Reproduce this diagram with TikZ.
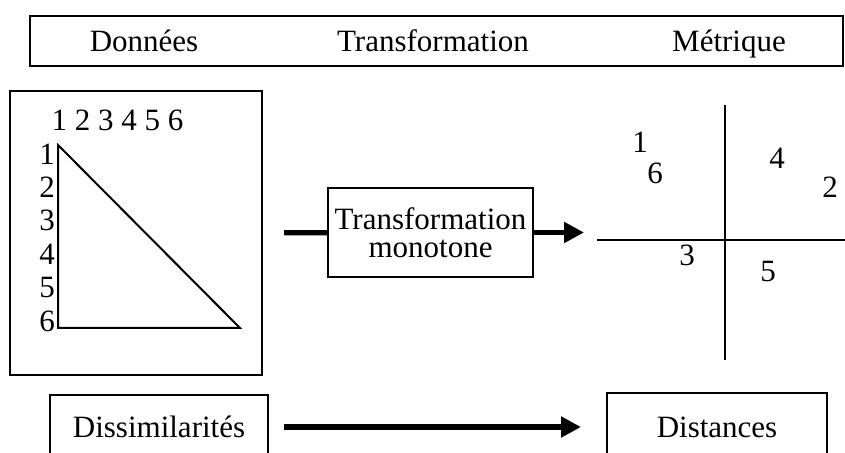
\documentclass[tikz,border=0pt]{standalone}
\usepackage{fontspec}
\setmainfont{Liberation Serif}
\usetikzlibrary{arrows.meta,positioning}

\begin{document}
\begin{tikzpicture}[x=0.5pt,y=-0.5pt,
  font=\fontsize{15.5}{14}\selectfont,
  box/.style={rectangle,draw,line width=1pt,align=center,inner sep=0pt},
  num/.style={inner sep=0pt},
  bar/.style={line width=2.6pt},
  arrow/.style={-{Triangle[length=10pt,width=10pt]},line width=2.6pt},
  axis/.style={line width=1.4pt}
]
\useasboundingbox (0,0) rectangle (845,453);
% bandeau du haut
\node[box,minimum width=406.5pt,minimum height=25pt] (head) at (436.5,41) {};
\node[num,anchor=base] (hdon) at (144,52) {Données};
\node[num,anchor=base] (htra) at (433,52) {Transformation};
\node[num,anchor=base] (hmet) at (729,52) {Métrique};
% donnees
\node[box,minimum width=126pt,minimum height=142pt] (data) at (136,233) {};
\node[num] (cols) at (117.5,120) {1 2 3 4 5 6};
\foreach \i in {1,...,6}
  \node[num] (r\i) at (47,{154+33.4*(\i-1)}) {\i};
\draw[line width=1pt] (58,145) -- (58,328) -- (240,328) -- cycle;
% transformation
\node[box,minimum width=102.5pt,minimum height=44.5pt] (mono) at (430.5,232.5) {Transformation\\monotone};
\coordinate (tip) at (584,232.5);
\draw[bar,shorten <=10.5pt] (data) -- (mono);
\draw[arrow] (mono) -- (tip);
% metrique
\draw[axis] (725,105) -- (725,360);
\draw[axis] (597,240) -- (845,240);
\node[num] (p1) at (640,142) {1};
\node[num] (p6) at (655,173) {6};
\node[num] (p4) at (777,158) {4};
\node[num] (p2) at (830,187) {2};
\node[num] (p3) at (687,255) {3};
\node[num] (p5) at (768,272) {5};
% bas
\node[box,minimum width=109pt,minimum height=32pt] (dis) at (159,427) {Dissimilarités};
\node[box,minimum width=110pt,minimum height=34pt] (dist) at (717,427) {Distances};
\draw[arrow,line width=3pt,shorten <=7.5pt,shorten >=12.5pt] (dis) -- (dist);
\end{tikzpicture}
\end{document}
